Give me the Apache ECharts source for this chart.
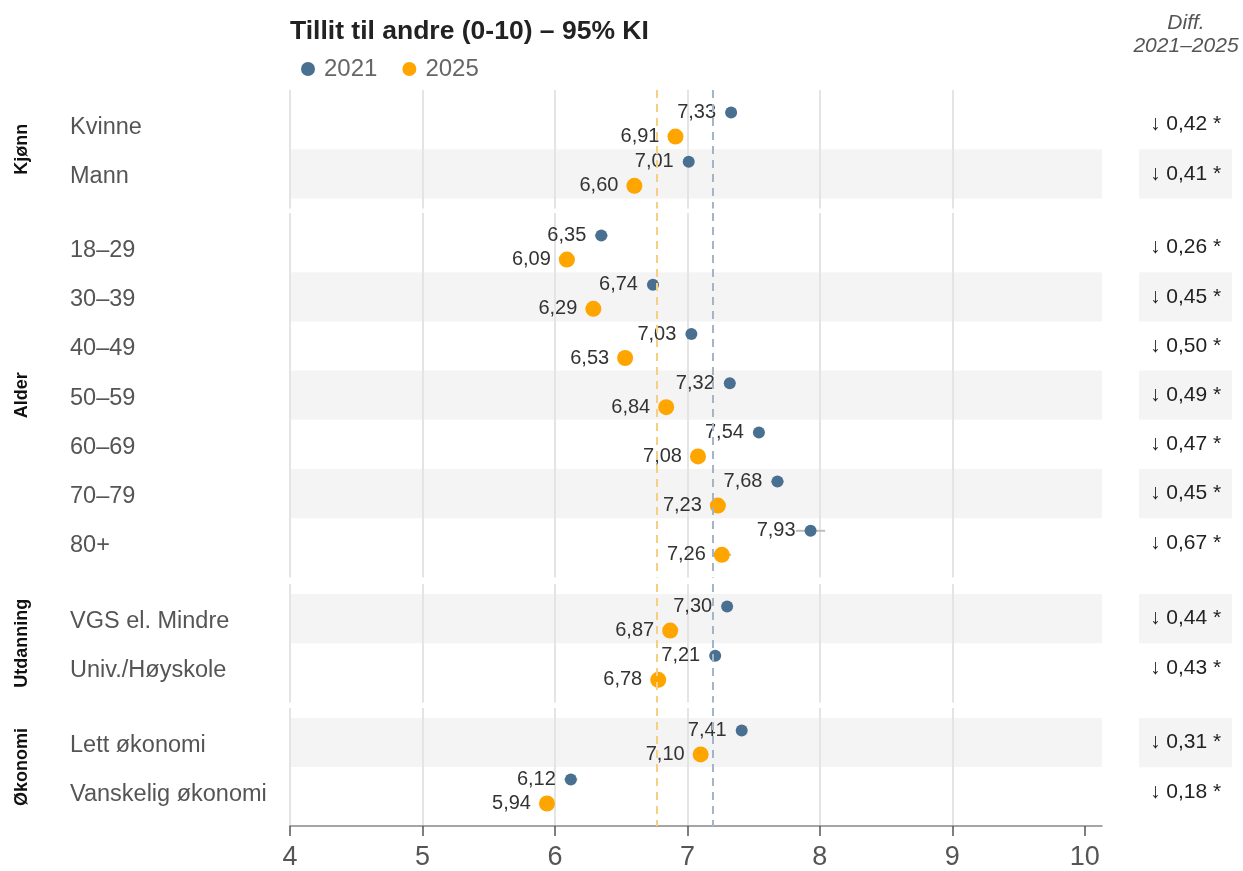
<!DOCTYPE html>
<html>
<head>
<meta charset="utf-8">
<script src="https://cdn.jsdelivr.net/npm/echarts@6/dist/echarts.min.js"></script>
<style>
  html, body { margin: 0; padding: 0; background: #fff; }
  #main { width: 1243px; height: 871px; }
</style>
</head>
<body>
<div id="main"></div>
<script>
var dom = document.getElementById("main");
var myChart = echarts.init(dom);

// data
const rowNames = ['Kvinne', 'Mann', '18–29', '30–39', '40–49', '50–59', '60–69', '70–79', '80+',
  'VGS el. Mindre', 'Univ./Høyskole', 'Lett økonomi', 'Vanskelig økonomi'];
const groupNames = ['Kjønn', 'Alder', 'Utdanning', 'Økonomi'];
const groupSizes = [2, 7, 2, 2];
const v2021 = [7.33, 7.01, 6.35, 6.74, 7.03, 7.32, 7.54, 7.68, 7.93, 7.30, 7.21, 7.41, 6.12];
const v2025 = [6.91, 6.60, 6.09, 6.29, 6.53, 6.84, 7.08, 7.23, 7.26, 6.87, 6.78, 7.10, 5.94];
// half width of the 95% interval (mostly hidden behind the dots)
const ci2021 = [0.03, 0.03, 0.05, 0.04, 0.04, 0.04, 0.04, 0.05, 0.11, 0.03, 0.03, 0.03, 0.05];
const ci2025 = [0.03, 0.03, 0.06, 0.04, 0.04, 0.04, 0.04, 0.05, 0.07, 0.03, 0.03, 0.03, 0.05];
const diffs = [0.42, 0.41, 0.26, 0.45, 0.50, 0.49, 0.47, 0.45, 0.67, 0.44, 0.43, 0.31, 0.18];
const mean2021 = 7.19;
const mean2025 = 6.77;
const xTicks = [4, 5, 6, 7, 8, 9, 10];

const C2021 = '#4a7091';
const C2025 = '#ffa500';
const FONT = "'Liberation Sans', Arial, sans-serif";

// layout
var groupTops = [90, 213, 584, 708];
var rowH = 49.2, pad = 10, yOff = 0.244;

function fmt(v) {
  return v.toFixed(2).replace('.', ',');
}

function bandItem(params, api) {
  var cs = params.coordSys;
  var y0 = api.coord([0, api.value(0) - 0.5])[1];
  var y1 = api.coord([0, api.value(0) + 0.5])[1];
  return {
    type: 'rect',
    shape: { x: cs.x, y: Math.min(y0, y1), width: cs.width, height: Math.abs(y1 - y0) },
    style: { fill: '#f4f4f4' }
  };
}

var grid = [], xAxis = [], yAxis = [], series = [];
var start = 0;

groupNames.forEach(function (g, gi) {
  var n = groupSizes[gi];
  var s = start;
  var h = n * rowH + 2 * pad;
  var padU = pad / rowH;
  var last = gi === groupNames.length - 1;
  var idx = [];
  for (var i = 0; i < n; i++) idx.push(i);
  var mainIdx = gi * 2, diffIdx = gi * 2 + 1;

  // plot panel
  grid.push({ left: 290, width: 812, top: groupTops[gi], height: h });
  xAxis.push({
    type: 'value', gridIndex: mainIdx, min: 4, max: 10.13, interval: 1, z: 1,
    axisLine: { show: last, onZero: false, lineStyle: { color: '#888', width: 1.5 } },
    axisTick: { show: last, customValues: xTicks, length: 10, lineStyle: { color: '#555', width: 1.5 } },
    axisLabel: { show: last, customValues: xTicks, fontSize: 27, color: '#555', margin: 18, fontFamily: FONT },
    splitLine: { show: true, showMaxLine: false, lineStyle: { color: '#e4e4e4', width: 2 } }
  });
  yAxis.push({
    type: 'value', gridIndex: mainIdx, inverse: true, min: -0.5 - padU, max: n - 0.5 + padU,
    axisLine: { show: false, onZero: false }, axisTick: { show: false }, splitLine: { show: false },
    axisLabel: {
      customValues: idx, align: 'left', margin: 220,
      formatter: function (v) { return '{n|' + rowNames[s + Math.round(v)] + '}'; },
      rich: { n: { fontSize: 23.5, color: '#555', fontFamily: FONT, padding: [6, 0, 0, 0] } }
    },
    name: g, nameLocation: 'middle', nameRotate: 90, nameGap: 259,
    nameTextStyle: { fontWeight: 'bold', fontSize: 18, color: '#111', fontFamily: FONT }
  });

  // diff panel
  grid.push({ left: 1139, width: 93, top: groupTops[gi], height: h });
  xAxis.push({ type: 'value', gridIndex: diffIdx, min: 0, max: 1, show: false });
  yAxis.push({ type: 'value', gridIndex: diffIdx, inverse: true, min: -0.5 - padU, max: n - 0.5 + padU, show: false });

  var bands = [], bars = [], d21 = [], d25 = [], dtxt = [];
  for (var i = 0; i < n; i++) {
    var k = s + i;
    if (k % 2 === 1) bands.push([i]);
    bars.push([v2021[k] - ci2021[k], v2021[k] + ci2021[k], i - yOff]);
    bars.push([v2025[k] - ci2025[k], v2025[k] + ci2025[k], i + yOff]);
    d21.push([v2021[k], i - yOff]);
    d25.push([v2025[k], i + yOff]);
    dtxt.push([i, diffs[k]]);
  }

  series.push({
    type: 'custom', xAxisIndex: mainIdx, yAxisIndex: mainIdx, z: 0, silent: true,
    renderItem: bandItem, data: bands
  });
  series.push({
    type: 'custom', xAxisIndex: mainIdx, yAxisIndex: mainIdx, z: 2, silent: true,
    renderItem: function (params, api) {
      var a = api.coord([api.value(0), api.value(2)]);
      var b = api.coord([api.value(1), api.value(2)]);
      return {
        type: 'line',
        shape: { x1: a[0], y1: a[1], x2: b[0], y2: b[1] },
        style: { stroke: '#bdbdbd', lineWidth: 2 }
      };
    },
    data: bars,
    markLine: {
      silent: true, symbol: 'none', label: { show: false },
      data: [
        { xAxis: mean2025, lineStyle: { color: '#f8cd84', type: [8, 6], width: 2 } },
        { xAxis: mean2021, lineStyle: { color: '#a3b6c9', type: [8, 6], width: 2 } }
      ]
    }
  });
  series.push({
    name: '2021', type: 'scatter', xAxisIndex: mainIdx, yAxisIndex: mainIdx, z: 3,
    symbolSize: 12, itemStyle: { color: C2021, opacity: 1 },
    label: { show: true, position: 'left', distance: 9, fontSize: 20, color: '#333', fontFamily: FONT,
      formatter: function (p) { return fmt(p.value[0]); } },
    data: d21
  });
  series.push({
    name: '2025', type: 'scatter', xAxisIndex: mainIdx, yAxisIndex: mainIdx, z: 3,
    symbolSize: 16, itemStyle: { color: C2025, opacity: 1 },
    label: { show: true, position: 'left', distance: 8, fontSize: 20, color: '#333', fontFamily: FONT,
      formatter: function (p) { return fmt(p.value[0]); } },
    data: d25
  });

  series.push({
    type: 'custom', xAxisIndex: diffIdx, yAxisIndex: diffIdx, z: 0, silent: true,
    renderItem: bandItem, data: bands
  });
  series.push({
    type: 'custom', xAxisIndex: diffIdx, yAxisIndex: diffIdx, z: 2, silent: true,
    renderItem: function (params, api) {
      var p = api.coord([0.5, api.value(0)]);
      return {
        type: 'text',
        style: {
          x: p[0], y: p[1], text: '↓ ' + fmt(api.value(1)) + ' *',
          align: 'center', verticalAlign: 'middle',
          fontSize: 21, fontFamily: FONT, fill: '#222'
        }
      };
    },
    data: dtxt
  });

  start += n;
});

option = {
  animation: false,
  textStyle: { fontFamily: FONT },
  title: {
    text: 'Tillit til andre (0-10) – 95% KI',
    left: 285, top: 13,
    textStyle: { fontSize: 26.5, fontWeight: 'bold', color: '#222', fontFamily: FONT }
  },
  legend: {
    data: ['2021', '2025'], left: 296, top: 52, icon: 'circle',
    itemWidth: 22, itemHeight: 14, itemGap: 25,
    textStyle: { fontSize: 24, color: '#666', fontFamily: FONT }
  },
  graphic: [{
    type: 'text', x: 1186, y: 12,
    style: {
      text: 'Diff.\n2021–2025', align: 'center', lineHeight: 23,
      fontSize: 21, fontStyle: 'italic', fontFamily: FONT, fill: '#555'
    }
  }],
  grid: grid,
  xAxis: xAxis,
  yAxis: yAxis,
  series: series
};

if (option && typeof option === "object") {
  myChart.setOption(option, true);
}
</script>
</body>
</html>
